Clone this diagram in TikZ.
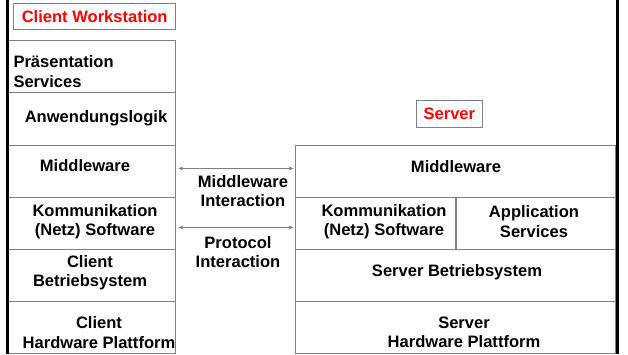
\documentclass[tikz,border=0pt]{standalone}
\usepackage{fontspec}
\setmainfont{Liberation Sans}
\usetikzlibrary{arrows.meta}

\begin{document}
\begin{tikzpicture}[x = 1bp, y = -1bp, line width = 1bp,
                      layer/.style = {rectangle, draw = gray, anchor = north west, inner sep = 0pt},
                      txt/.style = {align = center, inner sep = 0pt, font = \bfseries\fontsize{16.6}{19.5}\selectfont},
                      title/.style = {layer, txt, text = red},
                      wall/.style = {line width = 3bp},
                      link/.style = {draw = gray, line width = 0.8bp, shorten < = 2bp, shorten > = 1.5bp,
                                     arrows = {Stealth[length = 5bp, width = 4bp]-Stealth[length = 5bp, width = 4bp]}}]
    \useasboundingbox (0, 0) rectangle (628, 354);

    % client workstation
    \node [title, minimum width = 163, minimum height = 26] (ctitle) at (13, 3) {Client Workstation};
    \node [layer, minimum width = 168, minimum height = 52] (cpres) at (8, 40) {};
    \node [layer, minimum width = 168, minimum height = 53] (capp) at (8, 92) {};
    \node [layer, minimum width = 168, minimum height = 52] (cmw) at (8, 145) {};
    \node [layer, minimum width = 168, minimum height = 52] (ccom) at (8, 197) {};
    \node [layer, minimum width = 168, minimum height = 52] (cos) at (8, 249) {};
    \node [layer, minimum width = 168, minimum height = 52] (chw) at (8, 301) {};

    \node [txt, align = left, anchor = west] (tcpres) at (13, 71.5) {Präsentation\\Services};
    \node [txt] (tcapp) at (96, 118) {Anwendungslogik};
    \node [txt] (tcmw) at (85, 166) {Middleware};
    \node [txt] (tccom) at (95, 221.5) {Kommunikation\\(Netz) Software};
    \node [txt] (tcos) at (90, 273) {Client\\Betriebsystem};
    \node [txt] (tchw) at (99, 332.5) {Client\\Hardware Plattform};

    % server
    \node [title, minimum width = 66, minimum height = 27] (stitle) at (416, 100) {Server};
    \node [layer, minimum width = 321, minimum height = 52] (smw) at (295, 145) {};
    \node [layer, minimum width = 161, minimum height = 52] (scom) at (295, 197) {};
    \node [layer, minimum width = 160, minimum height = 52] (sapp) at (456, 197) {};
    \node [layer, minimum width = 321, minimum height = 52] (sos) at (295, 249) {};
    \node [layer, minimum width = 321, minimum height = 52] (shw) at (295, 301) {};

    \node [txt] (tsmw) at (456, 167) {Middleware};
    \node [txt] (tscom) at (384, 221.5) {Kommunikation\\(Netz) Software};
    \node [txt] (tsapp) at (534, 221.5) {Application\\Services};
    \node [txt] (tsos) at (457, 272) {Server Betriebsystem};
    \node [txt] (tshw) at (464, 332.5) {Server\\Hardware Plattform};

    % interaction
    \draw [link] ([yshift = 3bp]cmw.east) -- ([yshift = 3bp]smw.west);
    \draw [link] ([yshift = -4bp]ccom.east) -- ([yshift = -4bp]scom.west);
    \node [txt] (tmwint) at (243, 191) {Middleware\\Interaction};
    \node [txt] (tprint) at (238, 252) {Protocol\\Interaction};

    \draw [wall] (7, 0) -- (7, 354);
    \draw [wall] (617, 0) -- (617, 354);
\end{tikzpicture}
\end{document}
